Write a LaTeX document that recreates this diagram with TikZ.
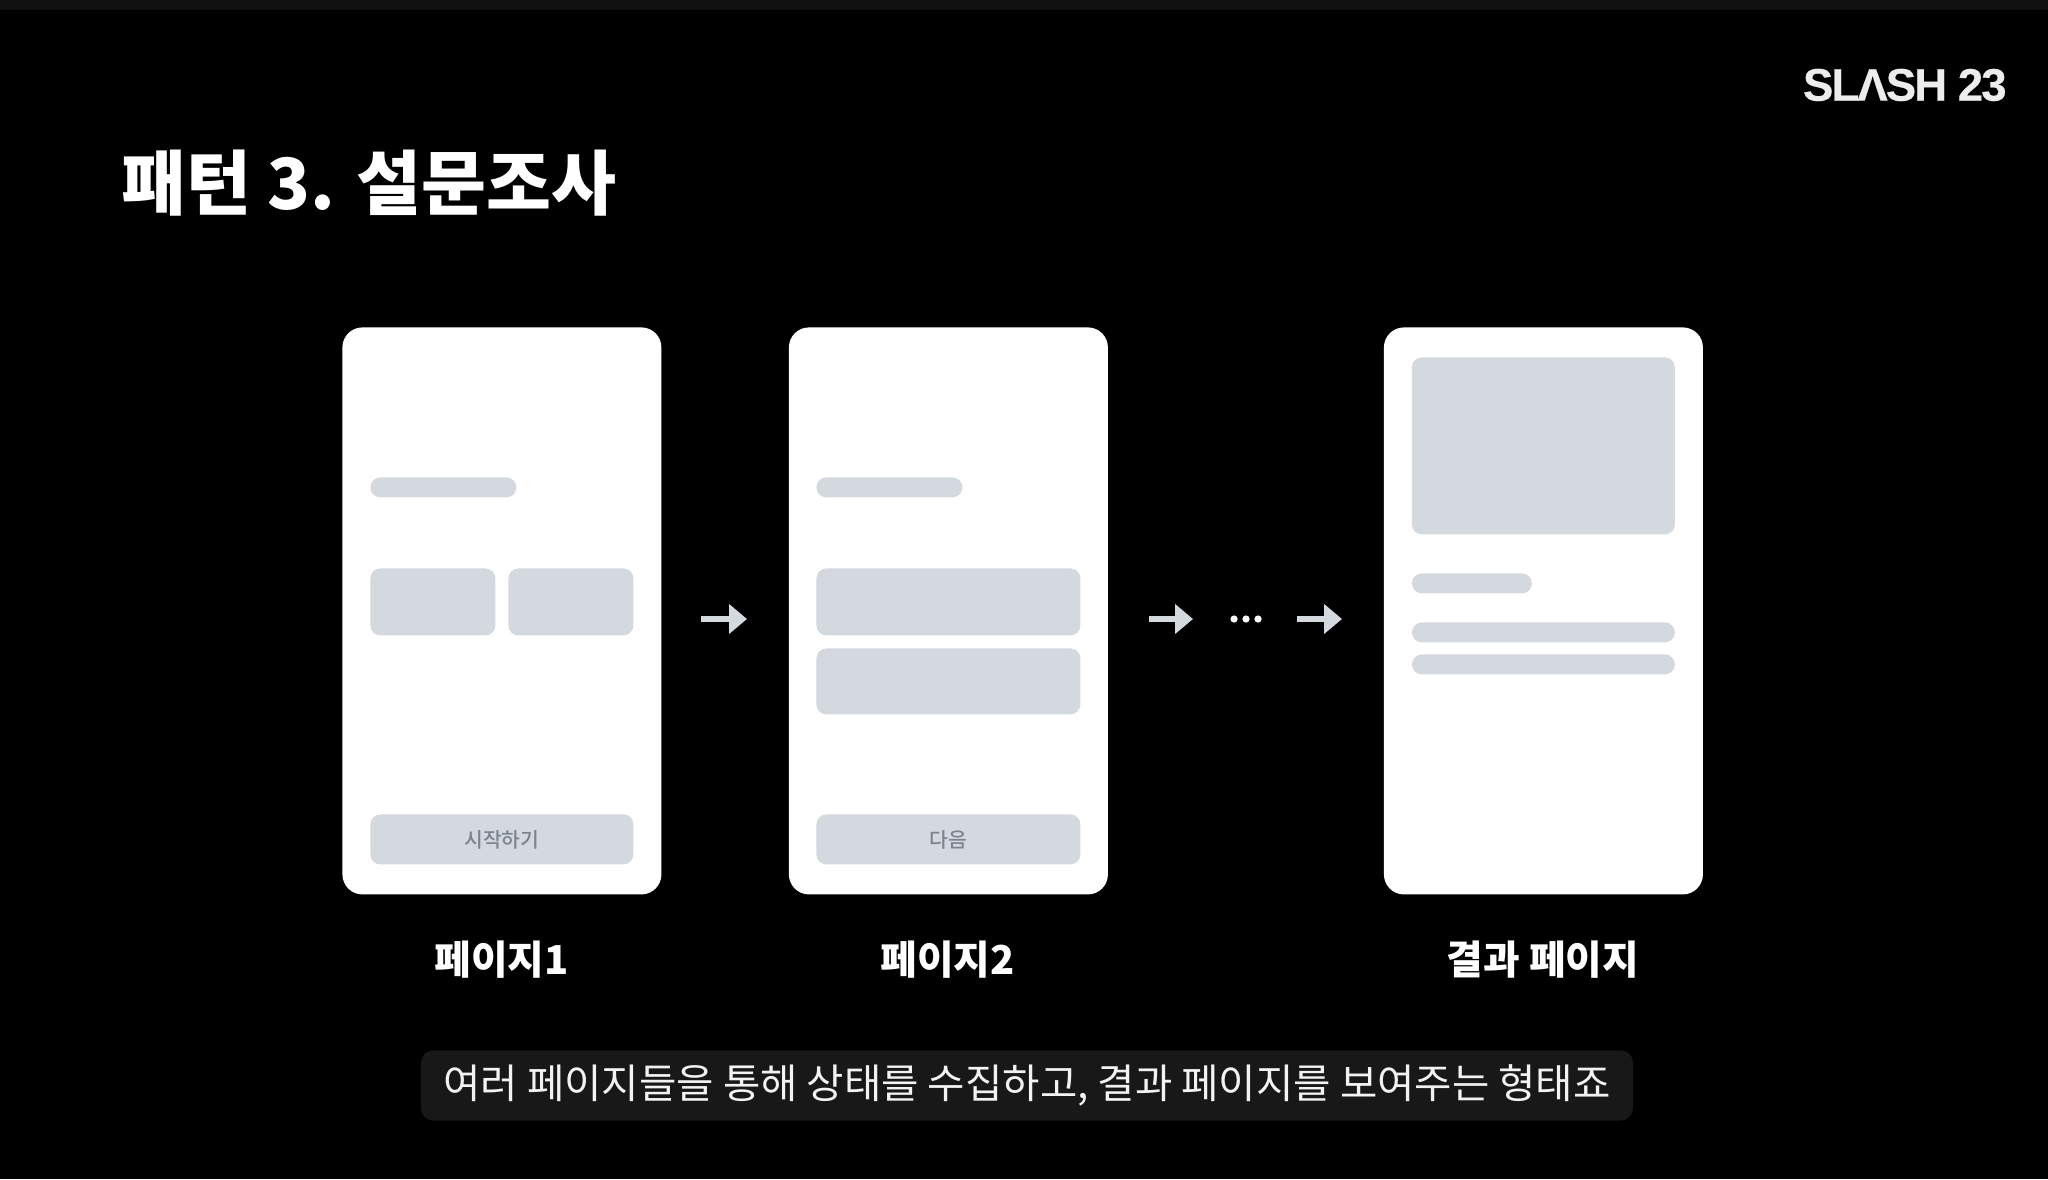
\documentclass[tikz,border=0pt]{standalone}
\usepackage{fontspec}
\usetikzlibrary{arrows.meta}
\setmainfont{Noto Sans CJK KR}
\newfontfamily\logofont[LetterSpace=-4.3,BoldFeatures={FakeBold=0.4}]{Liberation Sans}
\newfontfamily\btnfont{Noto Sans CJK KR Medium}
\definecolor{blockgray}{HTML}{D4D8DF}
\definecolor{btntext}{HTML}{7B8490}
\definecolor{capbg}{HTML}{181818}
\definecolor{topstrip}{HTML}{111111}
\tikzset{
  phone/.style={fill=white,rounded corners=10pt,inner sep=0pt,minimum width=159.5pt,minimum height=283.5pt,anchor=north west},
  block/.style={fill=blockgray,rounded corners=5pt,inner sep=0pt,anchor=north west},
  btnblock/.style={block,minimum width=131.5pt,minimum height=25pt,text=btntext,font=\btnfont\fontsize{10.2pt}{12pt}\selectfont},
  pagelabel/.style={text=white,font=\fontsize{19.9pt}{24pt}\selectfont\bfseries},
  flowarrow/.style={draw=blockgray,line width=2.6pt,-{Triangle[length=9pt,width=14.5pt]}}
}
\begin{document}
\begin{tikzpicture}[x=0.5pt,y=-0.5pt]
  \useasboundingbox (0,0) rectangle (2048,1179);
  \fill[black] (0,0) rectangle (2048,1179);
  \fill[topstrip] (0,0) rectangle (2048,10);

  \node[text=white,font=\fontsize{35.3pt}{44pt}\selectfont\bfseries,anchor=west,inner sep=0pt] (title) at (121,183) {패턴 3. 설문조사};
  \node[text=white!93!black,font=\logofont\fontsize{22.8pt}{28pt}\selectfont\bfseries,anchor=east,inner sep=0pt] (logo) at (2007,85) {SLΛSH 23};

  \node[phone] (page1) at (342,327) {};
  \node[block,minimum width=73pt,minimum height=10pt] (page1bar) at (370,477) {};
  \node[block,minimum width=62.5pt,minimum height=33.5pt] (page1left) at (370,568) {};
  \node[block,minimum width=62.5pt,minimum height=33.5pt] (page1right) at (508,568) {};
  \node[btnblock] (page1btn) at (370,814) {시작하기};

  \node[phone] (page2) at (788.5,327) {};
  \node[block,minimum width=73pt,minimum height=10pt] (page2bar) at (816,477) {};
  \node[block,minimum width=132pt,minimum height=33.5pt] (page2top) at (816,568) {};
  \node[block,minimum width=132pt,minimum height=33pt] (page2bot) at (816,648) {};
  \node[btnblock,minimum width=132pt] (page2btn) at (816,814) {다음};

  \node[phone] (result) at (1383.5,327) {};
  \node[block,minimum width=131.5pt,minimum height=88.5pt] (resultimg) at (1411.5,357) {};
  \node[block,minimum width=60pt,minimum height=10pt] (resultbar) at (1411.5,573) {};
  \node[block,minimum width=131.5pt,minimum height=10pt] (resultline1) at (1411.5,622) {};
  \node[block,minimum width=131.5pt,minimum height=10pt] (resultline2) at (1411.5,654) {};

  \node[pagelabel] (label1) at (501.5,960) {페이지1};
  \node[pagelabel] (label2) at (947.5,960) {페이지2};
  \node[pagelabel] (label3) at (1543,960) {결과 페이지};

  \coordinate (arrow1a) at (701,619);
  \coordinate (arrow1b) at (747,619);
  \coordinate (arrow2a) at (1149,619);
  \coordinate (arrow2b) at (1193,619);
  \coordinate (arrow3a) at (1297,619);
  \coordinate (arrow3b) at (1342,619);
  \draw[flowarrow] (arrow1a) -- (arrow1b);
  \draw[flowarrow] (arrow2a) -- (arrow2b);
  \draw[flowarrow] (arrow3a) -- (arrow3b);
  \foreach \dotx in {1234,1246,1258}
    \node[fill=white,circle,inner sep=0pt,minimum size=3.6pt] (dot\dotx) at (\dotx,619) {};

  \node[fill=capbg,rounded corners=6pt,minimum width=606pt,minimum height=35pt,inner sep=0pt,text=white!95!black,font=\fontsize{20.3pt}{24pt}\selectfont] (caption) at (1027,1085.5) {여러 페이지들을 통해 상태를 수집하고, 결과 페이지를 보여주는 형태죠};
\end{tikzpicture}
\end{document}
